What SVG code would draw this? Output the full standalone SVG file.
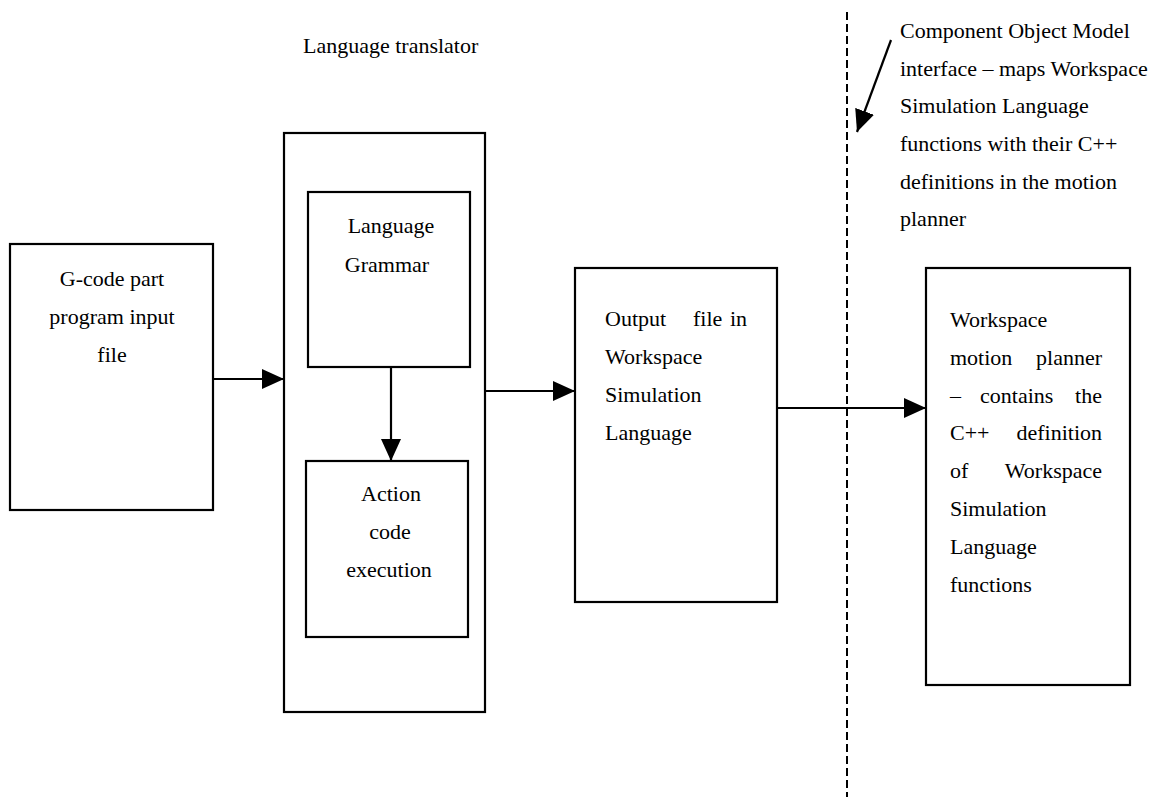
<svg xmlns="http://www.w3.org/2000/svg" width="1157" height="802" viewBox="0 0 1157 802">
  <defs>
    <marker id="head" markerUnits="userSpaceOnUse" markerWidth="22" markerHeight="20" refX="22" refY="10" orient="auto">
      <path d="M0,0 L22,10 L0,20 Z" fill="#000"/>
    </marker>
    <style>
      text { font-family: "Liberation Serif", "Times New Roman", serif; font-size: 22px; fill: #000; }
      .c { text-anchor: middle; }
      .e { text-anchor: end; }
      .box { fill: #fff; stroke: #000; stroke-width: 2.2; }
      .link { fill: none; stroke: #000; stroke-width: 2.2; marker-end: url(#head); }
      .boundary { fill: none; stroke: #000; stroke-width: 2; stroke-dasharray: 8 4; }
    </style>
  </defs>
  <rect width="1157" height="802" fill="#fff"/>

  <!-- COM interface boundary -->
  <g id="com-boundary">
    <line class="boundary" x1="847" y1="12" x2="847" y2="797"/>
    <text x="900" y="38">Component Object Model</text>
    <text x="900" y="76">interface – maps Workspace</text>
    <text x="900" y="113">Simulation Language</text>
    <text x="900" y="151">functions with their C++</text>
    <text x="900" y="189">definitions in the motion</text>
    <text x="900" y="226">planner</text>
  </g>

  <g id="gcode-input">
    <rect class="box" x="10" y="244" width="203" height="266"/>
    <text class="c" x="112" y="286">G-code part</text>
    <text class="c" x="112" y="324">program input</text>
    <text class="c" x="112" y="362">file</text>
  </g>

  <g id="language-translator">
    <text x="303" y="53">Language translator</text>
    <rect class="box" x="284" y="133" width="201" height="579"/>
  </g>

  <g id="language-grammar">
    <rect class="box" x="308" y="192" width="162" height="175"/>
    <text class="c" x="391" y="233">Language</text>
    <text class="c" x="387" y="272">Grammar</text>
  </g>

  <g id="action-code">
    <rect class="box" x="306" y="461" width="162" height="176"/>
    <text class="c" x="391" y="501">Action</text>
    <text class="c" x="390" y="539">code</text>
    <text class="c" x="389" y="577">execution</text>
  </g>

  <g id="output-file">
    <rect class="box" x="575" y="268" width="202" height="334"/>
    <text x="605" y="326">Output</text>
    <text x="693" y="326">file</text>
    <text class="e" x="747" y="326">in</text>
    <text x="605" y="364">Workspace</text>
    <text x="605" y="402">Simulation</text>
    <text x="605" y="440">Language</text>
  </g>

  <g id="motion-planner">
    <rect class="box" x="926" y="268" width="204" height="417"/>
    <text x="950" y="327">Workspace</text>
    <text x="950" y="365">motion</text>
    <text class="e" x="1102" y="365">planner</text>
    <text x="950" y="403">–</text>
    <text x="980" y="403">contains</text>
    <text class="e" x="1102" y="403">the</text>
    <text x="950" y="440">C++</text>
    <text class="e" x="1102" y="440">definition</text>
    <text x="950" y="478">of</text>
    <text class="e" x="1102" y="478">Workspace</text>
    <text x="950" y="516">Simulation</text>
    <text x="950" y="554">Language</text>
    <text x="950" y="592">functions</text>
  </g>

  <g id="connectors">
    <line class="link" x1="213" y1="379" x2="284" y2="379"/>
    <line class="link" x1="391" y1="367" x2="391" y2="461"/>
    <line class="link" x1="485" y1="391" x2="575" y2="391"/>
    <line class="link" x1="777" y1="408" x2="926" y2="408"/>
    <line class="link" x1="891" y1="40" x2="857" y2="132"/>
  </g>
</svg>
